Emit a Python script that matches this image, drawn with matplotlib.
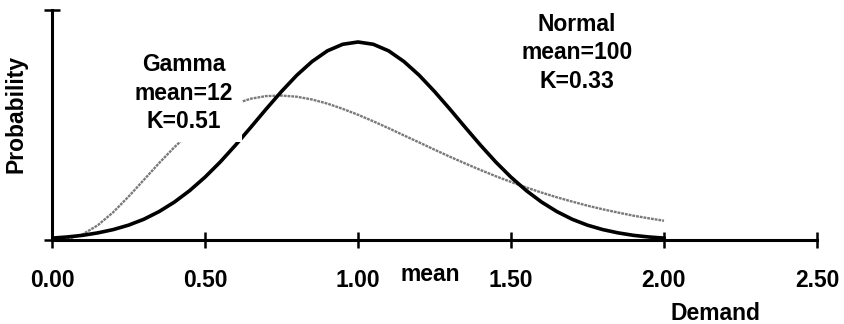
import matplotlib
matplotlib.use("Agg")
from matplotlib import pyplot as plt

# demand (as fraction of mean) and probability
demand = [0.00, 0.05, 0.10, 0.15, 0.20, 0.25, 0.30, 0.35, 0.40, 0.45,
          0.50, 0.55, 0.60, 0.65, 0.70, 0.75, 0.80, 0.85, 0.90, 0.95,
          1.00, 1.05, 1.10, 1.15, 1.20, 1.25, 1.30, 1.35, 1.40, 1.45,
          1.50, 1.55, 1.60, 1.65, 1.70, 1.75, 1.80, 1.85, 1.90, 1.95, 2.00]
normal = [0.012, 0.019, 0.029, 0.044, 0.064, 0.091, 0.127, 0.174, 0.232, 0.302,
          0.384, 0.477, 0.580, 0.689, 0.800, 0.907, 1.006, 1.090, 1.155, 1.195,
          1.209, 1.195, 1.155, 1.090, 1.006, 0.907, 0.800, 0.689, 0.580, 0.477,
          0.384, 0.302, 0.232, 0.174, 0.127, 0.091, 0.064, 0.044, 0.029, 0.019, 0.012]
gamma = [0.000, 0.006, 0.035, 0.091, 0.170, 0.265, 0.367, 0.470, 0.567, 0.654,
         0.728, 0.788, 0.833, 0.863, 0.879, 0.882, 0.875, 0.858, 0.833, 0.801,
         0.765, 0.725, 0.683, 0.639, 0.596, 0.552, 0.509, 0.468, 0.428, 0.390,
         0.355, 0.321, 0.290, 0.261, 0.235, 0.210, 0.188, 0.168, 0.149, 0.133, 0.118]
xticks = [0.0, 0.5, 1.0, 1.5, 2.0, 2.5]
ytop = 1.404

plt.rcParams['font.family'] = ['Liberation Sans', 'DejaVu Sans']
plt.rcParams['font.weight'] = 'bold'

fig = plt.figure(figsize=(8.44, 3.24), dpi=100)
ax = fig.add_axes([0.0616, 0.259, 0.9064, 0.710])

ax.plot(demand, gamma, color='#7a7a7a', lw=1.7, linestyle=(0, (1.2, 0.4)), zorder=2)
ax.plot(demand, normal, color='black', lw=2.6, zorder=3)

ax.set_xlim(0, 2.5)
ax.set_ylim(0, ytop)
for s in ['top', 'right']:
    ax.spines[s].set_visible(False)
for s in ['left', 'bottom']:
    ax.spines[s].set_linewidth(2.2)

fs = 16.5
ax.set_xticks(xticks)
ax.set_xticklabels(['%.2f' % v for v in xticks])
ax.set_yticks([0, ytop])
ax.set_yticklabels([])
ax.tick_params(direction='inout', length=11, width=1.8, labelsize=fs, pad=15)
for lab in ax.get_xticklabels():
    lab.set_fontweight('bold')

ax.text(-0.047, 0.55, 'Probability', rotation=90, fontsize=fs, fontweight='bold',
        ha='center', va='center', transform=ax.transAxes)
ax.text(1.235, -0.21, 'mean', fontsize=fs, fontweight='bold',
        ha='center', va='center', clip_on=False)
ax.text(2.167, -0.45, 'Demand', fontsize=fs, fontweight='bold',
        ha='center', va='center', clip_on=False)

ax.text(0.431, 0.897, 'Gamma\nmean=12\nK=0.51', fontsize=fs, fontweight='bold',
        ha='center', va='center', linespacing=1.3, zorder=5,
        bbox=dict(boxstyle='square,pad=0.4', facecolor='white', edgecolor='none'))
ax.text(1.716, 1.142, 'Normal\nmean=100\nK=0.33', fontsize=fs, fontweight='bold',
        ha='center', va='center', linespacing=1.3, zorder=5)

fig.savefig('out.png', dpi=100)
